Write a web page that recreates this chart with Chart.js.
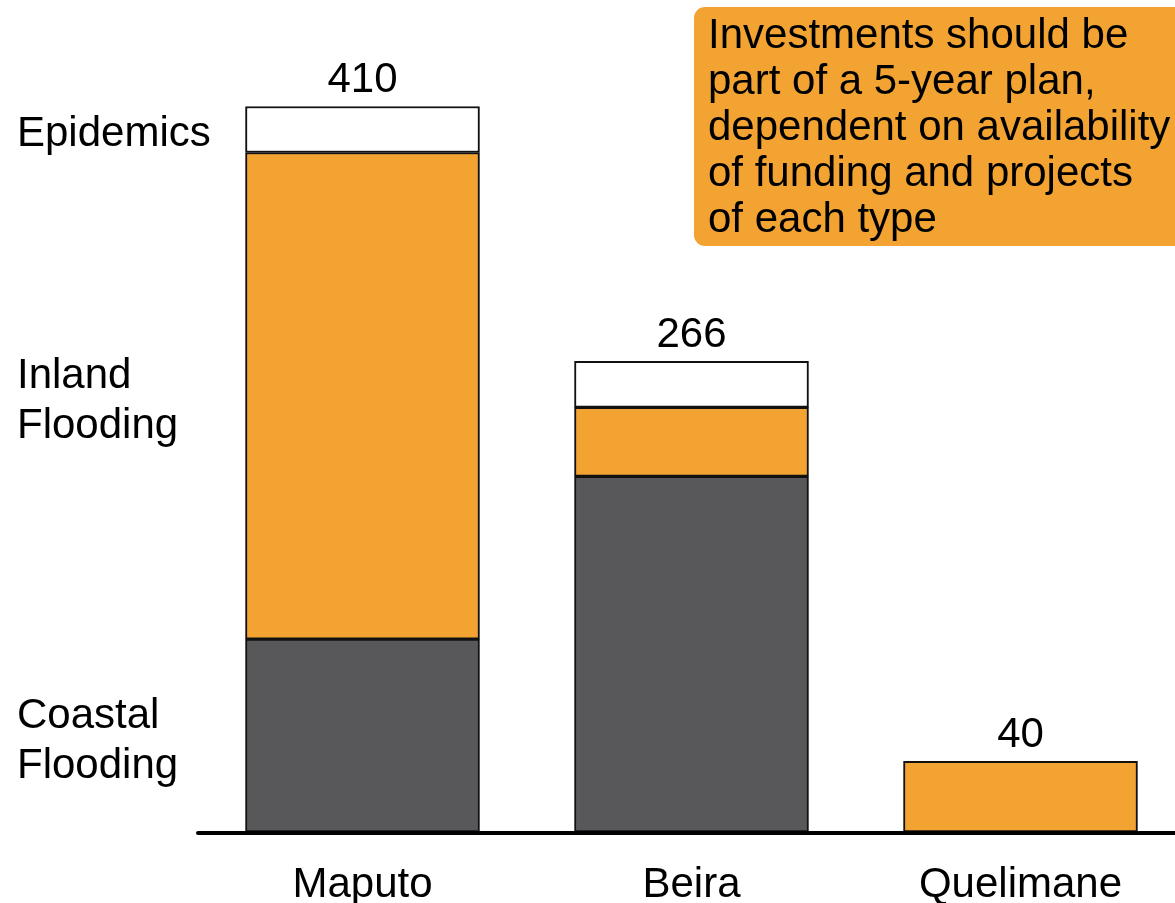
<!DOCTYPE html>
<html>
<head>
<meta charset="utf-8">
<script src="https://cdn.jsdelivr.net/npm/chart.js@4.4.1/dist/chart.umd.min.js"></script>
<style>
  html, body { margin: 0; padding: 0; background: #fff; overflow: hidden; }
  #wrap { width: 1175px; height: 903px; overflow: hidden; }
</style>
</head>
<body>
<div id="wrap"><canvas id="chart" width="1185" height="903"></canvas></div>
<script>
// data
var categories = ['Maputo', 'Beira', 'Quelimane'];
var coastal = [109, 201, null];
var inland = [275, 39, 40];
var epidemics = [26, 26, null];
var totals = [410, 266, 40];
var seriesNames = [['Coastal', 'Flooding'], ['Inland', 'Flooding'], ['Epidemics']];
var noteLines = [
  'Investments should be',
  'part of a 5-year plan,',
  'dependent on availability',
  'of funding and projects',
  'of each type'
];

var ORANGE = '#f2a332';
var GREY = '#58585a';
var FONT = '42px "Liberation Sans", Arial, sans-serif';

// labels, axis line and note box
var decor = {
  id: 'decor',
  afterDatasetsDraw: function (chart) {
    var ctx = chart.ctx;
    var area = chart.chartArea;
    ctx.save();

    // baseline
    ctx.strokeStyle = '#000';
    ctx.lineWidth = 4;
    ctx.lineCap = 'round';
    ctx.beginPath();
    ctx.moveTo(area.left, area.bottom + 1);
    ctx.lineTo(chart.width + 10, area.bottom + 1);
    ctx.stroke();

    ctx.fillStyle = '#000';
    ctx.font = FONT;
    ctx.textBaseline = 'alphabetic';

    // totals above bars and category names below
    var x = chart.scales.x, y = chart.scales.y;
    ctx.textAlign = 'center';
    categories.forEach(function (c, i) {
      var px = x.getPixelForValue(i);
      ctx.fillText(String(totals[i]), px, y.getPixelForValue(totals[i]) - 14);
      ctx.fillText(c, px, 897);
    });

    // series names, centred on the Maputo segments
    ctx.textAlign = 'left';
    seriesNames.forEach(function (lines, d) {
      var bar = chart.getDatasetMeta(d).data[0];
      var mid = (bar.y + bar.base) / 2 + 2;
      var first = mid - (lines.length - 1) * 25;
      lines.forEach(function (t, k) {
        ctx.fillText(t, 17, first + k * 50 + 15);
      });
    });

    // note box
    ctx.fillStyle = ORANGE;
    ctx.beginPath();
    ctx.roundRect(694, 7, 520, 239, 11);
    ctx.fill();
    ctx.fillStyle = '#000';
    noteLines.forEach(function (t, k) {
      ctx.fillText(t, 708, 48 + k * 46);
    });

    ctx.restore();
  }
};

new Chart(document.getElementById('chart'), {
  type: 'bar',
  data: {
    labels: categories,
    datasets: [
      { label: 'Coastal Flooding', data: coastal, backgroundColor: GREY },
      { label: 'Inland Flooding', data: inland, backgroundColor: ORANGE },
      { label: 'Epidemics', data: epidemics, backgroundColor: '#fff' }
    ].map(function (ds) {
      ds.borderColor = '#111';
      ds.borderWidth = 2;
      ds.borderSkipped = false;
      ds.barThickness = 234;
      return ds;
    })
  },
  options: {
    responsive: false,
    animation: false,
    events: [],
    layout: { padding: { left: 198, right: 0, top: 18, bottom: 71 } },
    plugins: { legend: { display: false }, tooltip: { enabled: false } },
    scales: {
      x: { stacked: true, display: false },
      y: { stacked: true, display: false, min: 0, max: 460 }
    }
  },
  plugins: [decor]
});
</script>
</body>
</html>
